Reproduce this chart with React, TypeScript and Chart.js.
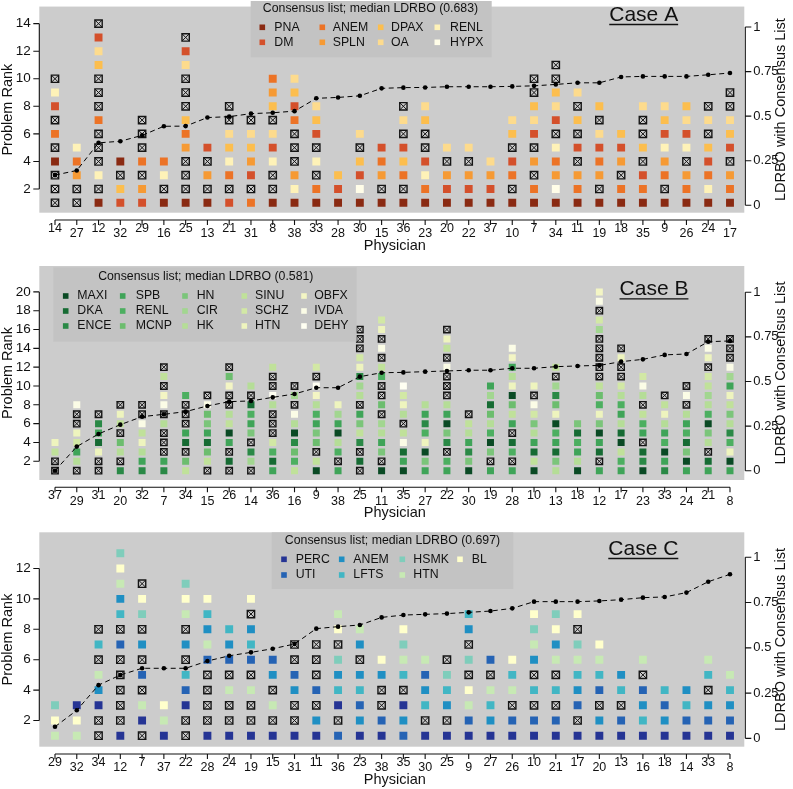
import React, { useEffect, useRef } from 'react';
import { Chart, registerables } from 'chart.js';
Chart.register(...registerables);

const FONT = '"Liberation Sans", Arial, Helvetica, sans-serif';

// ---------------- Case A data ----------------
const physiciansA = ['14','27','12','32','29','16','25','13','21','31','8','38','33','28','30','15','36','23','20','22','37','10','7','34','11','19','18','35','9','26','24','17'];
const ldrboA = [0.169,0.195,0.35,0.359,0.392,0.443,0.444,0.492,0.497,0.514,0.519,0.528,0.6,0.605,0.614,0.656,0.66,0.661,0.665,0.665,0.665,0.667,0.67,0.678,0.687,0.687,0.72,0.723,0.723,0.723,0.732,0.742];
// problem listed at rank 1,2,3,... (bottom to top); x = not in consensus list
const ranksA = ['xxxPxAxDRx','xxSAR','PxRxxxAxxxXODx','DXxP','DSxAxxx','PxRA','PxxxSAXxxxODx','PxSxD','DxARXOxx','AxDSXOx','PxxRDOxXSA','PRSxxxADXO','PAxRxDXO','PDX','PHDXxO','PxSAD','PxAXDxOx','PARDxxXO','PDSxO','PDSxO','PDSO','PxADxXO','PAxSxDOXxx','PHSARxDOXxx','PASxDxXxO','PxSADOxX','PAxSDX','PADxXxxO','PxASRDXO','PASxRDOX','PRADXxOx','PASxDXOxx'];
const problemsA = ['PNA','DM','ANEM','SPLN','DPAX','OA','RENL','HYPX'];
const codesA = ['P','D','A','S','X','O','R','H'];
const medianA = 0.683;
const rankTicksA = [2,4,6,8,10,12,14];

// ---------------- Case B data ----------------
const physiciansB = ['37','29','31','20','32','7','34','15','26','14','36','16','9','38','25','11','35','27','22','30','19','28','10','13','18','12','17','23','33','24','21','8'];
const ldrboB = [0,0.135,0.206,0.258,0.303,0.316,0.331,0.363,0.387,0.391,0.411,0.43,0.465,0.465,0.527,0.549,0.551,0.555,0.559,0.563,0.563,0.574,0.574,0.583,0.587,0.59,0.611,0.624,0.649,0.654,0.723,0.727];
const ranksB = ['xxUT','xkSZTxxV','xxTKSEx','ExkNxUTx','ESkTUVxx','ESxxxkxVOxUx','UNxKSxxxR','xUNKSHNVx','xKxSMUkxxONx','xIExHSRKxk','SKRZxxxkYxxU','URNEMkVxIx','MUxNHSRkOYxZ','SxRkMSIT','xKxEUHSxkIETZxxx','MxHSkIxNxxRUxVxTZ','MSKVUxkTZY','SHMTRESk','SRxEHMSkxxxVxUTx','MHESkUx','SxHMRkNKIS','SxRKxSUNMTkSOV','MUKSkHZVxT','kHKSRMTNEIxU','MkSRKH','SxKSMHTRNUxxxxxIZxVO','SRUMKkSRkZxxTx','MEKxSRUxkVZ','ESMRSkTUx','SMHKRSkxVx','SKxkHMRkIUZxTVx','SMTREkHUTSIVxxx'];
const problemsB = ['MAXI','DKA','ENCE','SPB','RENL','MCNP','HN','CIR','HK','SINU','SCHZ','HTN','OBFX','IVDA','DEHY'];
const codesB = ['M','K','E','S','R','N','H','I','k','U','Z','T','O','V','Y'];
const medianB = 0.581;
const rankTicksB = [2,4,6,8,10,12,14,16,18,20];

// ---------------- Case C data ----------------
const physiciansC = ['29','32','34','12','7','37','22','28','24','19','15','31','11','36','23','38','35','30','25','9','27','26','10','21','17','20','13','16','18','14','33','8'];
const ldrboC = [0.064,0.155,0.294,0.35,0.387,0.387,0.387,0.427,0.456,0.475,0.495,0.521,0.606,0.617,0.626,0.668,0.681,0.685,0.689,0.696,0.703,0.718,0.755,0.755,0.755,0.759,0.766,0.777,0.781,0.805,0.865,0.906];
const ranksC = ['TBS','TBP','xxPATxLx','PxxxxxUxLATBS','xPTxUxAxSBx','PTB','xxPULxAxTBS','PxxxxUTALB','PxxTxUAL','PxxTxULAxB','PxTxAU','PxxAUxx','PAxUxxx','UxPLASxBT','PAULAxAT','PUxxAB','UAPxLTSB','PxLAUT','PxALSx','PUTBxSxAL','PALTxU','PUxTLB','PUxLxATSB','PUxLxTABS','PxUALTSxB','PAxULTB','PUxLA','PLAUxT','PAUL','PULA','PUAxLT','PUALT'];
const problemsC = ['PERC','UTI','ANEM','LFTS','HSMK','HTN','BL'];
const codesC = ['P','U','A','L','S','T','B'];
const medianC = 0.697;
const rankTicksC = [2,4,6,8,10,12];

const ldrboTicks = [0, 0.25, 0.5, 0.75, 1];

// ---------------- styles ----------------
const colorsA = ['#8A2A12','#D4502B','#EC7326','#F69A34','#FCBE4E','#FDDB8D','#FEF2B8','#FFFDE8'];
const colorsB = ['#0A4A24','#166B33','#2A8946','#3FA458','#4CAF60','#6CBD6E','#7BC57A','#A2D690','#B5DD97','#C0E19A','#D2E8A5','#EEF4BE','#F3F5C4','#FBFCE6','#FFFFF2'];
const colorsC = ['#253494','#2563B4','#1F8FC3','#41B6C4','#7FCDBB','#C7E9B4','#FFFFCC'];

const W = 793;
const PLOT_LEFT = 39.3;
const PLOT_RIGHT = 744.3;
const X_MIN = -0.721;
const X_MAX = 31.657;

interface Layout {
  canvasTop: number; canvasHeight: number; plotTop: number; plotBottom: number;
  rankMin: number; rankMax: number; ldMin: number; ldMax: number; cell: number;
  box: number[]; titleX: number; titleY: number; cols: number[][]; rows: number[];
  caseX: number; caseY: number; caseText: string;
}

const layoutA: Layout = {
  canvasTop: 0, canvasHeight: 258, plotTop: 1, plotBottom: 212.7,
  rankMin: 0.279, rankMax: 15.24, ldMin: -0.042, ldMax: 1.115, cell: 7.9,
  box: [250.7, 1, 491.7, 57.3], titleX: 370.5, titleY: 8.5,
  cols: [[262.3, 274.3], [322.3, 332.7], [380.7, 391], [437.3, 450]], rows: [27.3, 42.3],
  caseX: 643.7, caseY: 15, caseText: 'Case A',
};
const layoutB: Layout = {
  canvasTop: 258, canvasHeight: 266, plotTop: 266, plotBottom: 480,
  rankMin: 0.012, rankMax: 22.75, ldMin: -0.052, ldMax: 1.147, cell: 7.0,
  box: [53.3, 267.3, 356.7, 341.7], titleX: 205.8, titleY: 276.5,
  cols: [[65.7, 77.3], [122.7, 135.7], [185, 196.7], [244.3, 255], [304, 314.3]], rows: [296, 311, 326],
  caseX: 654, caseY: 289.3, caseText: 'Case B',
};
const layoutC: Layout = {
  canvasTop: 524, canvasHeight: 265, plotTop: 532.3, plotBottom: 746.7,
  rankMin: 0.276, rankMax: 14.38, ldMin: -0.046, ldMax: 1.138, cell: 7.9,
  box: [271.7, 532.3, 513.3, 589], titleX: 392.5, titleY: 540.5,
  cols: [[284, 295.7], [341.7, 353.3], [402.3, 413.3], [460, 471.7]], rows: [559.3, 575],
  caseX: 643.3, caseY: 549, caseText: 'Case C',
};

interface PanelData {
  key: string; physicians: string[]; ldrbo: number[]; ranks: string[];
  problems: string[]; codes: string[]; colors: string[]; median: number;
  rankTicks: number[]; layout: Layout;
}

const panels: PanelData[] = [
  { key: 'A', physicians: physiciansA, ldrbo: ldrboA, ranks: ranksA, problems: problemsA, codes: codesA, colors: colorsA, median: medianA, rankTicks: rankTicksA, layout: layoutA },
  { key: 'B', physicians: physiciansB, ldrbo: ldrboB, ranks: ranksB, problems: problemsB, codes: codesB, colors: colorsB, median: medianB, rankTicks: rankTicksB, layout: layoutB },
  { key: 'C', physicians: physiciansC, ldrbo: ldrboC, ranks: ranksC, problems: problemsC, codes: codesC, colors: colorsC, median: medianC, rankTicks: rankTicksC, layout: layoutC },
];

function zeroPad(s: any) {
  s.paddingLeft = 0; s.paddingRight = 0; s.paddingTop = 0; s.paddingBottom = 0;
}

function decorPlugin(p: PanelData) {
  const L = p.layout;
  const off = L.canvasTop;
  return {
    id: 'decor' + p.key,
    beforeDraw(chart: any) {
      const { ctx, chartArea: a } = chart;
      ctx.save();
      ctx.fillStyle = '#CCCCCC';
      ctx.fillRect(a.left, a.top, a.right - a.left, a.bottom - a.top);
      ctx.restore();
    },
    afterDraw(chart: any) {
      const { ctx, chartArea: a } = chart;
      const xs = chart.scales.x, ys = chart.scales.y, y2 = chart.scales.y2;
      ctx.save();
      ctx.strokeStyle = '#111';
      ctx.lineWidth = 1.1;
      // bottom axis
      const ay = a.bottom + 7.3;
      ctx.beginPath();
      ctx.moveTo(xs.getPixelForValue(0), ay);
      ctx.lineTo(xs.getPixelForValue(p.physicians.length - 1), ay);
      p.physicians.forEach((_, i) => {
        const px = xs.getPixelForValue(i);
        ctx.moveTo(px, ay);
        ctx.lineTo(px, ay + 5);
      });
      // left axis
      const t0 = p.rankTicks[0], t1 = p.rankTicks[p.rankTicks.length - 1];
      ctx.moveTo(a.left, ys.getPixelForValue(t0));
      ctx.lineTo(a.left, ys.getPixelForValue(t1));
      p.rankTicks.forEach((v) => {
        const py = ys.getPixelForValue(v);
        ctx.moveTo(a.left - 6, py);
        ctx.lineTo(a.left, py);
      });
      // right axis
      ctx.moveTo(a.right + 1, y2.getPixelForValue(0));
      ctx.lineTo(a.right + 1, y2.getPixelForValue(1));
      ldrboTicks.forEach((v) => {
        const py = y2.getPixelForValue(v);
        ctx.moveTo(a.right + 1, py);
        ctx.lineTo(a.right + 7, py);
      });
      ctx.stroke();

      // axis titles
      ctx.fillStyle = '#111';
      ctx.textAlign = 'center';
      ctx.textBaseline = 'middle';
      ctx.font = `14.5px ${FONT}`;
      ctx.fillText('Physician', (a.left + a.right) / 2 + 3, a.bottom + 33.3);
      const cy = (a.top + a.bottom) / 2;
      ctx.save();
      ctx.translate(8, cy);
      ctx.rotate(-Math.PI / 2);
      ctx.fillText('Problem Rank', 0, 0);
      ctx.restore();
      ctx.save();
      ctx.translate(781, cy);
      ctx.rotate(-Math.PI / 2);
      ctx.font = `14.5px ${FONT}`;
      ctx.fillText('LDRBO with Consensus List', 0, 0);
      ctx.restore();

      // legend
      const [bx0, by0, bx1, by1] = L.box;
      ctx.fillStyle = '#C3C3C3';
      ctx.fillRect(bx0, by0 - off, bx1 - bx0, by1 - by0);
      ctx.fillStyle = '#111';
      ctx.font = `12.3px ${FONT}`;
      ctx.textAlign = 'center';
      ctx.fillText(`Consensus list; median LDRBO (${p.median.toFixed(3)})`, L.titleX, L.titleY - off);
      ctx.textAlign = 'left';
      const nr = L.rows.length;
      p.problems.forEach((name, k) => {
        const col = L.cols[Math.floor(k / nr)];
        const ry = L.rows[k % nr] - off;
        ctx.fillStyle = p.colors[k];
        ctx.fillRect(col[0] - 2.8, ry - 2.8, 5.6, 5.6);
        ctx.fillStyle = '#111';
        ctx.fillText(name, col[1], ry);
      });

      // case title
      ctx.font = `21px ${FONT}`;
      ctx.textAlign = 'center';
      ctx.fillText(L.caseText, L.caseX, L.caseY - off);
      const tw = ctx.measureText(L.caseText).width;
      ctx.lineWidth = 1.3;
      ctx.beginPath();
      ctx.moveTo(L.caseX - tw / 2, L.caseY - off + 9.5);
      ctx.lineTo(L.caseX + tw / 2, L.caseY - off + 9.5);
      ctx.stroke();
      ctx.restore();
    },
  };
}

function buildConfig(p: PanelData): any {
  const L = p.layout;
  const padTop = L.plotTop - L.canvasTop;
  const bottomH = L.canvasTop + L.canvasHeight - L.plotBottom;
  const r = L.cell / Math.SQRT2;
  const datasets: any[] = [];
  datasets.push({
    type: 'line', label: 'LDRBO',
    data: p.ldrbo.map((v, i) => ({ x: i, y: v })),
    xAxisID: 'x', yAxisID: 'y2',
    borderColor: '#000', borderWidth: 1, borderDash: [5, 3.5],
    pointRadius: 2.3, pointBackgroundColor: '#000', pointBorderWidth: 0,
    fill: false, tension: 0, order: 0,
  });
  const crosses: any[] = [];
  p.ranks.forEach((s, i) => s.split('').forEach((c, j) => { if (c === 'x') crosses.push({ x: i, y: j + 1 }); }));
  const rc = (L.cell - 0.6) / Math.SQRT2;
  datasets.push({
    type: 'scatter', label: 'other', data: crosses, xAxisID: 'x', yAxisID: 'y',
    pointStyle: 'rect', pointRadius: rc, backgroundColor: 'rgba(0,0,0,0)',
    borderColor: '#151515', borderWidth: 1.4, order: 1,
  });
  datasets.push({
    type: 'scatter', label: 'other-x', data: crosses, xAxisID: 'x', yAxisID: 'y',
    pointStyle: 'crossRot', pointRadius: rc, borderColor: '#151515', borderWidth: 1.0, order: 1,
  });
  p.problems.forEach((name, k) => {
    const code = p.codes[k];
    const pts: any[] = [];
    p.ranks.forEach((s, i) => s.split('').forEach((c, j) => { if (c === code) pts.push({ x: i, y: j + 1 }); }));
    datasets.push({
      type: 'scatter', label: name, data: pts, xAxisID: 'x', yAxisID: 'y',
      pointStyle: 'rect', pointRadius: r, backgroundColor: p.colors[k], borderWidth: 0, order: 2,
    });
  });

  return {
    type: 'scatter',
    data: { datasets },
    options: {
      responsive: false,
      animation: false,
      events: [],
      layout: { padding: { top: padTop, left: 0, right: 0, bottom: 0 } },
      plugins: { legend: { display: false }, tooltip: { enabled: false }, title: { display: false } },
      scales: {
        x: {
          type: 'linear', position: 'bottom', min: X_MIN, max: X_MAX,
          afterBuildTicks: (s: any) => { s.ticks = p.physicians.map((_, i) => ({ value: i })); },
          afterFit: (s: any) => { s.height = bottomH; zeroPad(s); },
          grid: { display: false, drawTicks: false }, border: { display: false },
          ticks: {
            autoSkip: false, maxRotation: 0, minRotation: 0, padding: 9, color: '#111',
            callback: (_v: any, i: number) => p.physicians[i],
            font: (c: any) => ({ family: FONT, size: 12.5, lineHeight: c.index % 2 ? 1.95 : 1.08 }),
          },
        },
        y: {
          type: 'linear', position: 'left', min: L.rankMin, max: L.rankMax,
          afterBuildTicks: (s: any) => { s.ticks = p.rankTicks.map((v) => ({ value: v })); },
          afterFit: (s: any) => { s.width = PLOT_LEFT; zeroPad(s); },
          grid: { display: false, drawTicks: false }, border: { display: false },
          ticks: { padding: 8.5, color: '#111', font: { family: FONT, size: 13.5 }, callback: (v: any) => String(v) },
        },
        y2: {
          type: 'linear', position: 'right', min: L.ldMin, max: L.ldMax,
          afterBuildTicks: (s: any) => { s.ticks = ldrboTicks.map((v) => ({ value: v })); },
          afterFit: (s: any) => { s.width = W - PLOT_RIGHT; zeroPad(s); },
          grid: { display: false, drawTicks: false }, border: { display: false },
          ticks: { padding: 9, color: '#111', font: { family: FONT, size: 13 }, callback: (v: any) => String(v) },
        },
      },
    },
    plugins: [decorPlugin(p)],
  };
}

function Panel({ p }: { p: PanelData }) {
  const ref = useRef<HTMLCanvasElement>(null);
  useEffect(() => {
    const chart = new Chart(ref.current as HTMLCanvasElement, buildConfig(p));
    return () => chart.destroy();
  }, [p]);
  return (
    <canvas
      ref={ref}
      width={W}
      height={p.layout.canvasHeight}
      style={{ position: 'absolute', left: 0, top: p.layout.canvasTop, width: W, height: p.layout.canvasHeight }}
    />
  );
}

export default function App() {
  return (
    <div style={{ position: 'absolute', left: 0, top: 0, width: W, height: 789, background: '#fff', overflow: 'hidden' }}>
      {panels.map((p) => <Panel key={p.key} p={p} />)}
    </div>
  );
}
